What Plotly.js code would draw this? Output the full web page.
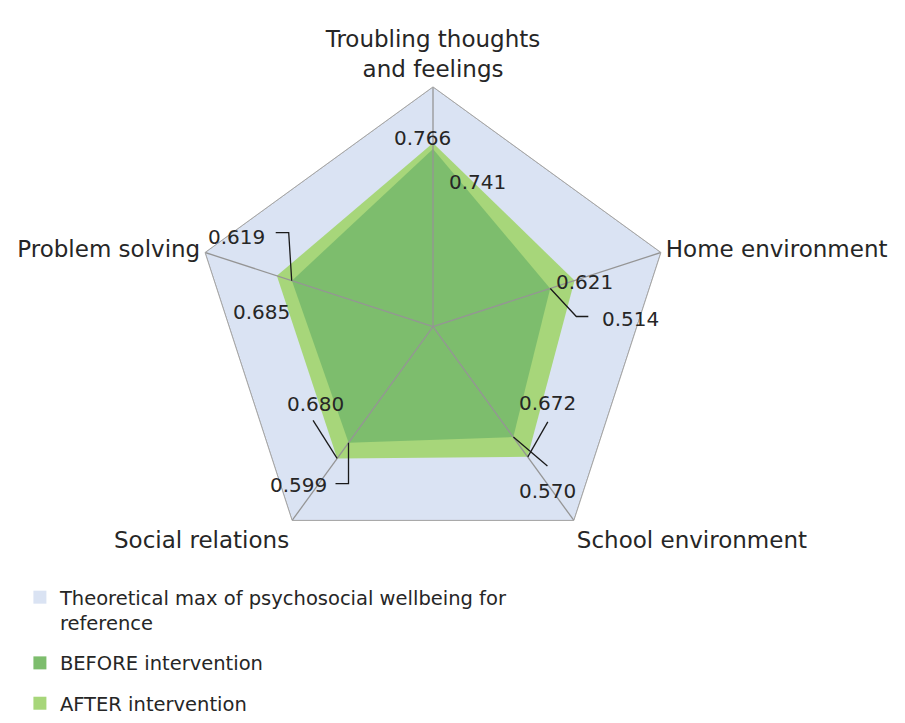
<!DOCTYPE html>
<html>
<head>
<meta charset="utf-8">
<script src="https://cdn.plot.ly/plotly-3.0.1.min.js"></script>
<style>html,body{margin:0;padding:0;background:#fff}#chart{width:905px;height:723px}</style>
</head>
<body>
<div id="chart"></div>
<script>
// ---- data ----
const categories = ['Troubling thoughts<br>and feelings', 'Home environment', 'School environment', 'Social relations', 'Problem solving'];
const maxValues = [1, 1, 1, 1, 1];
const beforeValues = [0.741, 0.514, 0.570, 0.599, 0.619];
const afterValues = [0.766, 0.621, 0.672, 0.680, 0.685];
const seriesNames = ['Theoretical max of psychosocial wellbeing for<br>reference', 'BEFORE intervention', 'AFTER intervention'];

// ---- layout constants ----
const W = 905, H = 723, CX = 433, CY = 327, R = 240;
const FONT = 'DejaVu Sans, sans-serif';
const cMax = '#dae3f3', cBefore = '#7dbd6d', cAfter = '#a7d67a';

function closed(a){ return a.concat([a[0]]); }
function pt(v, i){
  const th = i * 2 * Math.PI / categories.length;
  return [CX + v * R * Math.sin(th), CY - v * R * Math.cos(th)];
}

// spokes from centre to the theoretical max on each axis
const spokeR = [], spokeT = [];
categories.forEach(function(c, i){ spokeR.push(0, maxValues[i], null); spokeT.push(c, c, null); });

const traces = [
  {type:'scatterpolar', r: closed(maxValues), theta: closed(categories), fill:'toself', fillcolor:cMax,
   mode:'lines', line:{color:'#a6a6a6', width:1}, showlegend:false, hoverinfo:'skip'},
  {type:'scatterpolar', r: closed(afterValues), theta: closed(categories), fill:'toself', fillcolor:cAfter,
   mode:'lines', line:{color:cAfter, width:0}, showlegend:false},
  {type:'scatterpolar', r: closed(beforeValues), theta: closed(categories), fill:'toself', fillcolor:cBefore,
   mode:'lines', line:{color:cBefore, width:0}, showlegend:false},
  {type:'scatterpolar', r: spokeR, theta: spokeT, mode:'lines', line:{color:'#959595', width:1.3},
   connectgaps:false, showlegend:false, hoverinfo:'skip'}
];
[[seriesNames[0], cMax], [seriesNames[1], cBefore], [seriesNames[2], cAfter]].forEach(function(s, k){
  traces.push({type:'scatterpolar', r:[null], theta:[null], mode:'markers', name:s[0], legendgroup:'g'+k,
    marker:{symbol:'square', size:13, color:s[1]}, showlegend:true});
});

// label offsets (pixels, y down) and leader paths (pixels, y down) per category
const afterLabel = [[-11,-5],[10,1],[20,-54],[-22,-54],[-15,36]];
const beforeLabel = [[44,33],[80,31],[34,54],[-50,42],[-55,-44]];
const afterLeader = [null, null, [[0,0],[20,-35]], [[0,0],[-24,-38]], null];
const beforeLeader = [null, [[0,0],[26,28],[38,28]], [[0,0],[34,29]], [[0,0],[0,41],[-13,41]], [[0,0],[-3,-48],[-16,-48]]];

const annotations = [], shapes = [];
function addLabels(vals, offs, leaders){
  vals.forEach(function(v, i){
    const p = pt(v, i);
    annotations.push({xref:'paper', yref:'paper', x:(p[0]+offs[i][0])/W, y:1-(p[1]+offs[i][1])/H,
      text: v.toFixed(3), showarrow:false, xanchor:'center', yanchor:'middle',
      font:{family:FONT, size:20, color:'#262626'}});
    if (leaders[i]) {
      const path = leaders[i].map(function(q, k){ return (k ? 'L' : 'M') + q[0] + ',' + (-q[1]); }).join(' ');
      shapes.push({type:'path', xref:'paper', yref:'paper', xsizemode:'pixel', ysizemode:'pixel',
        xanchor:p[0]/W, yanchor:1-p[1]/H, path:path, line:{color:'#1a1a1a', width:1.3}});
    }
  });
}
addLabels(afterValues, afterLabel, afterLeader);
addLabels(beforeValues, beforeLabel, beforeLeader);

const layout = {
  width: W, height: H, margin:{l:0, r:0, t:0, b:0},
  paper_bgcolor:'#fff', font:{family:FONT, size:21, color:'#262626'},
  polar:{
    domain:{x:[(CX-R)/W, (CX+R)/W], y:[(H-CY-R)/H, (H-CY+R)/H]},
    gridshape:'linear', bgcolor:'rgba(0,0,0,0)',
    radialaxis:{visible:false, range:[0,1]},
    angularaxis:{type:'category', rotation:90, direction:'clockwise', showgrid:false,
      showline:true, linecolor:'#a6a6a6', linewidth:1, ticks:'', tickfont:{family:FONT, size:23, color:'#262626'}}
  },
  showlegend:true,
  legend:{x:0.022, xanchor:'left', y:0.2, yanchor:'top', orientation:'v', valign:'top',
    font:{family:FONT, size:19.5, color:'#262626'}, bgcolor:'rgba(0,0,0,0)', tracegroupgap:12},
  annotations: annotations, shapes: shapes
};

Plotly.newPlot('chart', traces, layout, {displayModeBar:false, staticPlot:true});
</script>
</body>
</html>
